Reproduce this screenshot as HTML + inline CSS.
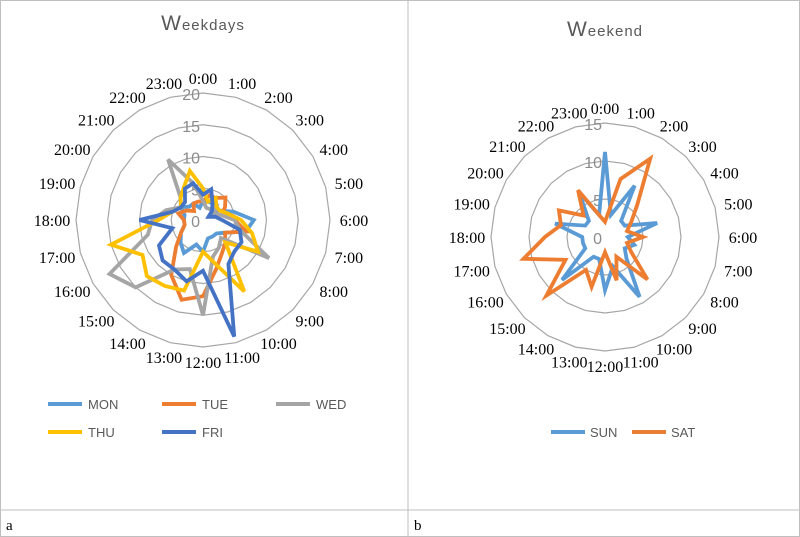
<!DOCTYPE html>
<html><head><meta charset="utf-8">
<style>
body{margin:0;background:#fff;}
svg{display:block;font-family:"Liberation Serif",serif;}
</style></head>
<body>
<svg id="s" width="800" height="537" viewBox="0 0 800 537" xmlns="http://www.w3.org/2000/svg">
<rect x="0.5" y="0.5" width="799" height="536" fill="#fff" stroke="#bfbfbf"/>
<line x1="408" y1="0" x2="408" y2="537" stroke="#bfbfbf"/>
<line x1="0" y1="510" x2="800" y2="510" stroke="#bfbfbf"/>
<text x="6" y="530" font-size="15">a</text>
<text x="414" y="530" font-size="15">b</text>
<text x="203" y="30" text-anchor="middle" font-size="15" fill="#595959" font-family="Liberation Sans,sans-serif" letter-spacing="1"><tspan font-size="21">W</tspan>eekdays</text>
<text x="605" y="36" text-anchor="middle" font-size="15" fill="#595959" font-family="Liberation Sans,sans-serif" letter-spacing="1"><tspan font-size="21">W</tspan>eekend</text>
<g font-family="Liberation Sans,sans-serif" font-size="13" fill="#595959">
<line x1="48" y1="404" x2="82" y2="404" stroke="#5b9bd5" stroke-width="4"/><text x="88" y="409">MON</text>
<line x1="162" y1="404" x2="196" y2="404" stroke="#ed7d31" stroke-width="4"/><text x="202" y="409">TUE</text>
<line x1="276" y1="404" x2="310" y2="404" stroke="#a5a5a5" stroke-width="4"/><text x="316" y="409">WED</text>
<line x1="48" y1="432" x2="82" y2="432" stroke="#ffc000" stroke-width="4"/><text x="88" y="437">THU</text>
<line x1="162" y1="432" x2="196" y2="432" stroke="#4472c4" stroke-width="4"/><text x="202" y="437">FRI</text>
<line x1="551" y1="432" x2="585" y2="432" stroke="#5b9bd5" stroke-width="4"/><text x="590" y="437">SUN</text>
<line x1="632" y1="432" x2="666" y2="432" stroke="#ed7d31" stroke-width="4"/><text x="671" y="437">SAT</text>
</g>
</svg>
<script>
const s=document.getElementById('s');const NS='http://www.w3.org/2000/svg';
function el(t,a,txt){const e=document.createElementNS(NS,t);for(const k in a)e.setAttribute(k,a[k]);if(txt!==undefined)e.textContent=txt;s.appendChild(e);return e;}
function pt(cx,cy,r,i){const a=i*Math.PI/12;return [cx+r*Math.sin(a),cy-r*Math.cos(a)];}
function chart(cx,cy,R,max,step,series){
  for(let v=step;v<=max;v+=step){const r=R*v/max;let p=[];for(let i=0;i<24;i++)p.push(pt(cx,cy,r,i).join(','));
    el('polygon',{points:p.join(' '),fill:'none',stroke:'#a6a6a6','stroke-width':1.2});}
  for(let v=0;v<=max;v+=step){el('text',{x:cx-3,y:cy-R*v/max+7,'text-anchor':'end','font-size':16,fill:'#8c8c8c','font-family':'Liberation Sans,sans-serif'},String(v));}
  for(let i=0;i<24;i++){const a=i*Math.PI/12;const [x,y]=pt(cx,cy,R+15,i);
    el('text',{x:x+Math.sin(a)*9,y:y+6,'text-anchor':'middle','font-size':16,fill:'#000'},i+':00');}
  series.forEach(([c,d])=>{let p=d.map((v,i)=>pt(cx,cy,R*v/max,i).join(','));
    el('polygon',{points:p.join(' '),fill:'none',stroke:c,'stroke-width':3.8,'stroke-linejoin':'miter'});});
}
chart(203,220,127,20,5,[
 ['#5b9bd5',[3,3,3,2,3,5,8,7,4,3,3,3,5,4,6,5,4,3,3,3,4,3,3,2]],
 ['#ed7d31',[3,4,4,5,4,3,5,7,4,5,6,8,12,13,10,6,4,3,3,4,3,2,3,3]],
 ['#a5a5a5',[3,2,2,3,2,3,5,6,12,4,5,6,15,8,9,15,17,9,8,6,4,5,11,6]],
 ['#ffc000',[5,3,4,3,3,4,6,8,10,5,13,7,5,11.5,12,12.5,11,15,7,5,4,5,6,8]],
 ['#4472c4',[4,5,3,2,1,2,3,6,7,7,8,19,8,10,9,9,8,5,10,5,4,4,5.7,6]]
]);
chart(605,237,114,15,5,[
 ['#5b9bd5',[11.2,3,7.8,3,3,7.1,3,4,3,4,9.1,4,7,3,3,8,3,3,3,6.8,3,3,6.8,3]],
 ['#ed7d31',[2,7.9,11.9,6,4,3,5,3,4,7.9,3,5.9,2,6.8,5,10.9,6,11.1,7.9,6,7,4,7.1,3]]
]);
</script>
</body></html>
